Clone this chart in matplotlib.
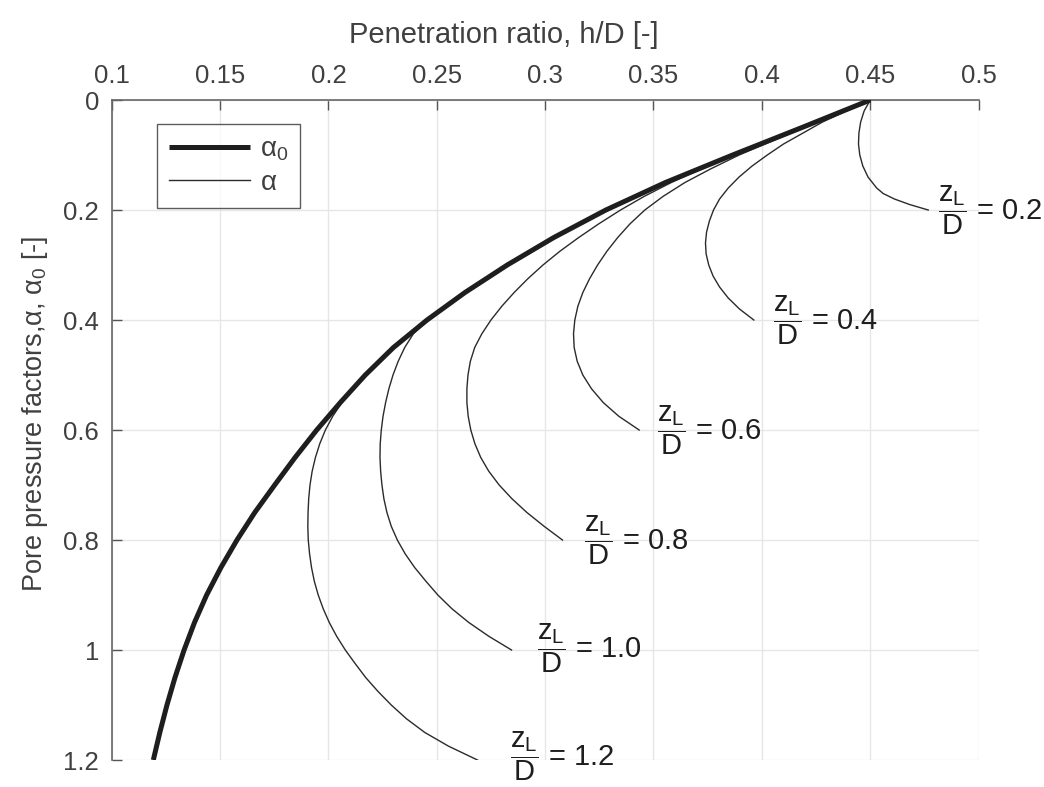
import numpy as np
import matplotlib.pyplot as plt

plt.rcParams['font.family'] = ['Liberation Sans', 'DejaVu Sans']
plt.rcParams['mathtext.fontset'] = 'custom'
plt.rcParams['mathtext.rm'] = 'Liberation Sans'
plt.rcParams['mathtext.it'] = 'Liberation Sans'
plt.rcParams['mathtext.sf'] = 'Liberation Sans'

# alpha_0 curve (alpha on the y axis, h/D on x)
a0_y = [0.00, 0.05, 0.10, 0.15, 0.20, 0.25, 0.30, 0.35, 0.40, 0.45, 0.50, 0.55, 0.60,
        0.65, 0.70, 0.75, 0.80, 0.85, 0.90, 0.95, 1.00, 1.05, 1.10, 1.15, 1.20]
a0_x = [0.4500, 0.4185, 0.3865, 0.3555, 0.3280, 0.3040, 0.2825, 0.2630, 0.2455, 0.2300, 0.2170,
        0.2055, 0.1946, 0.1846, 0.1752, 0.1660, 0.1578, 0.1504, 0.1438, 0.1382, 0.1334,
        0.1292, 0.1255, 0.1222, 0.1192]

# alpha curves for each z_L/D
zl_values = ['0.2', '0.4', '0.6', '0.8', '1.0', '1.2']

a02_y = [0.00, 0.02, 0.04, 0.06, 0.08, 0.10, 0.12, 0.14, 0.16, 0.17, 0.18, 0.19, 0.20]
a02_x = [0.4500, 0.4472, 0.4456, 0.4448, 0.4446, 0.4452, 0.4466, 0.4490, 0.4530, 0.4560, 0.4612,
         0.4682, 0.4768]

a04_y = [0.00, 0.02, 0.04, 0.06, 0.08, 0.10, 0.12, 0.14, 0.16, 0.18, 0.20,
         0.22, 0.24, 0.26, 0.28, 0.30, 0.32, 0.34, 0.36, 0.38, 0.40]
a04_x = [0.4500, 0.4390, 0.4280, 0.4190, 0.4100, 0.4025, 0.3955, 0.3895, 0.3845, 0.3805, 0.3777,
         0.3758, 0.3745, 0.3740, 0.3743, 0.3755, 0.3775, 0.3805, 0.3845, 0.3897, 0.3963]

a06_y = [0.00, 0.05, 0.10, 0.125, 0.15, 0.175, 0.20, 0.225, 0.25, 0.275, 0.30, 0.325, 0.35,
         0.375, 0.40, 0.425, 0.45, 0.475, 0.50, 0.525, 0.55, 0.575, 0.60]
a06_x = [0.4500, 0.4195, 0.3895, 0.3765, 0.3645, 0.3545, 0.3460, 0.3392, 0.3335, 0.3285, 0.3242,
         0.3205, 0.3174, 0.3151, 0.3137, 0.3131, 0.3134, 0.3148, 0.3174, 0.3214, 0.3268,
         0.3340, 0.3434]

a08_y = [0.00, 0.05, 0.10, 0.125, 0.15, 0.175, 0.20, 0.225, 0.25, 0.275, 0.30, 0.325, 0.35,
         0.375, 0.40, 0.425, 0.45, 0.475, 0.50, 0.525, 0.55, 0.575, 0.60, 0.625, 0.65,
         0.675, 0.70, 0.725, 0.75, 0.775, 0.80]
a08_x = [0.4500, 0.4190, 0.3872, 0.3722, 0.3582, 0.3458, 0.3348, 0.3248, 0.3155, 0.3068, 0.2990,
         0.2920, 0.2857, 0.2800, 0.2750, 0.2708, 0.2675, 0.2655, 0.2644, 0.2639, 0.2639,
         0.2645, 0.2657, 0.2676, 0.2703, 0.2740, 0.2788, 0.2847, 0.2916, 0.2995, 0.3080]

a10_y = [0.00, 0.05, 0.10, 0.15, 0.20, 0.25, 0.30, 0.35, 0.40, 0.425, 0.45, 0.475, 0.50,
         0.525, 0.55, 0.575, 0.60, 0.625, 0.65, 0.675, 0.70, 0.725, 0.75, 0.775, 0.80,
         0.825, 0.85, 0.875, 0.90, 0.925, 0.95, 0.975, 1.00]
a10_x = [0.4500, 0.4185, 0.3865, 0.3555, 0.3280, 0.3040, 0.2825, 0.2630, 0.2458, 0.2392, 0.2352,
         0.2322, 0.2298, 0.2279, 0.2264, 0.2252, 0.2244, 0.2239, 0.2238, 0.2241, 0.2247,
         0.2256, 0.2270, 0.2290, 0.2318, 0.2354, 0.2398, 0.2450, 0.2505, 0.2570, 0.2648,
         0.2740, 0.2845]

a12_y = [0.00, 0.05, 0.10, 0.15, 0.20, 0.25, 0.30, 0.35, 0.40, 0.45, 0.50, 0.525, 0.55,
         0.575, 0.60, 0.625, 0.65, 0.675, 0.70, 0.725, 0.75, 0.775, 0.80, 0.825, 0.85,
         0.875, 0.90, 0.925, 0.95, 0.975, 1.00, 1.025, 1.05, 1.075, 1.10, 1.125, 1.15,
         1.175, 1.20]
a12_x = [0.4500, 0.4185, 0.3865, 0.3555, 0.3280, 0.3040, 0.2825, 0.2630, 0.2455, 0.2300, 0.2170,
         0.2113, 0.2062, 0.2020, 0.1986, 0.1960, 0.1940, 0.1925, 0.1915, 0.1909, 0.1906,
         0.1905, 0.1907, 0.1913, 0.1922, 0.1935, 0.1953, 0.1976, 0.2004, 0.2038, 0.2078,
         0.2124, 0.2172, 0.2228, 0.2290, 0.2360, 0.2445, 0.2555, 0.2688]

curves_x = [a02_x, a04_x, a06_x, a08_x, a10_x, a12_x]
curves_y = [a02_y, a04_y, a06_y, a08_y, a10_y, a12_y]

# label anchor points (left of fraction, level of fraction bar)
label_x = [0.4812, 0.4053, 0.3515, 0.318, 0.2964, 0.2838]
label_y = [0.200, 0.400, 0.600, 0.800, 0.997, 1.193]

xticks = [0.1, 0.15, 0.2, 0.25, 0.3, 0.35, 0.4, 0.45, 0.5]
yticks = [0, 0.2, 0.4, 0.6, 0.8, 1.0, 1.2]
xticklabels = ['0.1', '0.15', '0.2', '0.25', '0.3', '0.35', '0.4', '0.45', '0.5']
yticklabels = ['0', '0.2', '0.4', '0.6', '0.8', '1', '1.2']

txt = '#404040'
fig = plt.figure(figsize=(10.44, 7.87), dpi=100)
ax = fig.add_axes([0.107, 0.0343, 0.8303, 0.8386])

for i in range(len(curves_x)):
    lab = r'$\alpha$' if i == 0 else None
    ax.plot(curves_x[i], curves_y[i], color='#2b2b2b', lw=1.0, label=lab, zorder=3)
ax.plot(a0_x, a0_y, color='#1e1e1e', lw=3.6, label=r'$\alpha_0$', zorder=4,
        solid_capstyle='butt')

for i in range(len(zl_values)):
    ax.text(label_x[i], label_y[i], r'$\dfrac{z_L}{D}$ = ' + zl_values[i],
            fontsize=21, color='#1e1e1e', ha='left', va='center')

ax.set_xlim(0.1, 0.5)
ax.set_ylim(1.2, 0)
ax.set_xticks(xticks)
ax.set_xticklabels(xticklabels)
ax.set_yticks(yticks)
ax.set_yticklabels(yticklabels)
ax.xaxis.tick_top()
ax.xaxis.set_label_position('top')
ax.tick_params(direction='in', length=7, width=1, colors='#555555', labelcolor=txt,
               labelsize=18.5, pad=9)
ax.tick_params(axis='y', pad=9)
ax.grid(True, color='#e6e6e6', lw=1)
ax.set_axisbelow(True)
for s in ['right', 'bottom']:
    ax.spines[s].set_visible(False)
for s in ['left', 'top']:
    ax.spines[s].set_color('#666666')
    ax.spines[s].set_linewidth(1.2)

ax.set_xlabel('Penetration ratio, h/D [-]', fontsize=21, color=txt)
ax.xaxis.set_label_coords(0.4526, 1.086)
ax.set_ylabel(r'Pore pressure factors,$\alpha$, $\alpha_0$ [-]', fontsize=19.5, color=txt)
ax.yaxis.set_label_coords(-0.071, 0.524)

handles, labels = ax.get_legend_handles_labels()
leg = ax.legend(handles[::-1], labels[::-1], loc='upper left',
                bbox_to_anchor=(0.052, 0.964), borderaxespad=0, fontsize=20, frameon=True,
                fancybox=False, handlelength=2.9, borderpad=0.45, labelspacing=0.25,
                handletextpad=0.35)
leg.get_frame().set_edgecolor('#333333')
leg.get_frame().set_linewidth(1.0)
for t in leg.get_texts():
    t.set_color(txt)

fig.savefig('out.png', dpi=100)
